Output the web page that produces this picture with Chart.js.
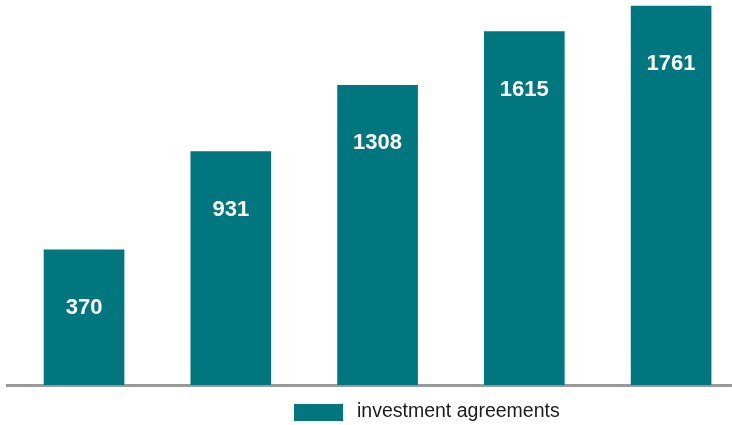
<!DOCTYPE html>
<html>
<head>
<meta charset="utf-8">
<script src="https://cdn.jsdelivr.net/npm/chart.js"></script>
<style>
  html, body { margin: 0; padding: 0; background: #fff; }
  #wrap { position: relative; width: 732px; height: 425px; }
</style>
</head>
<body>
<div id="wrap"><canvas id="chart"></canvas></div>
<script>
// bars have no category text in the original, only their position
var categories = [0, 1, 2, 3, 4];
var agreements = [370, 931, 1308, 1615, 1761];
var seriesLabel = 'investment agreements';

var teal = '#00767f';

// value printed inside each bar, a bit below its top
var barLabels = {
  id: 'barLabels',
  afterDatasetsDraw: function(chart) {
    var ctx = chart.ctx;
    var meta = chart.getDatasetMeta(0);
    ctx.save();
    ctx.fillStyle = '#ffffff';
    ctx.font = 'bold 22px "Liberation Sans", Arial, sans-serif';
    ctx.textAlign = 'center';
    ctx.textBaseline = 'middle';
    meta.data.forEach(function(bar, i) {
      ctx.fillText(String(agreements[i]), bar.x, bar.y + 58);
    });
    ctx.restore();
  }
};

// legend sits off-centre under the chart, so it is drawn by hand
var bottomLegend = {
  id: 'bottomLegend',
  afterDraw: function(chart) {
    var ds = chart.data.datasets[0];
    var ctx = chart.ctx;
    ctx.save();
    ctx.fillStyle = ds.backgroundColor;
    ctx.fillRect(294, 404, 49, 17);
    ctx.fillStyle = '#1c1c1c';
    ctx.font = '19.5px "Liberation Sans", Arial, sans-serif';
    ctx.textAlign = 'left';
    ctx.textBaseline = 'middle';
    ctx.fillText(ds.label, 357, 412);
    ctx.restore();
  }
};

var ctx = document.getElementById('chart');
new Chart(ctx, {
  type: 'bar',
  data: {
    datasets: [{
      label: seriesLabel,
      data: categories.map(function(c, i) { return { x: c, y: agreements[i] }; }),
      backgroundColor: teal,
      borderWidth: 0,
      base: -400,
      barThickness: 80
    }]
  },
  options: {
    responsive: true,
    maintainAspectRatio: false,
    animation: false,
    layout: { padding: { left: 7, right: 0, top: 0, bottom: 40 } },
    plugins: {
      legend: { display: false },
      tooltip: { enabled: false }
    },
    scales: {
      x: {
        type: 'linear',
        offset: false,
        min: -0.525,
        max: 4.415,
        grid: { display: false, drawTicks: false },
        ticks: { display: false },
        border: { display: true, color: '#9a9a9a', width: 3 }
      },
      y: {
        display: false,
        min: -400,
        max: 1795
      }
    }
  },
  plugins: [barLabels, bottomLegend]
});
</script>
</body>
</html>
